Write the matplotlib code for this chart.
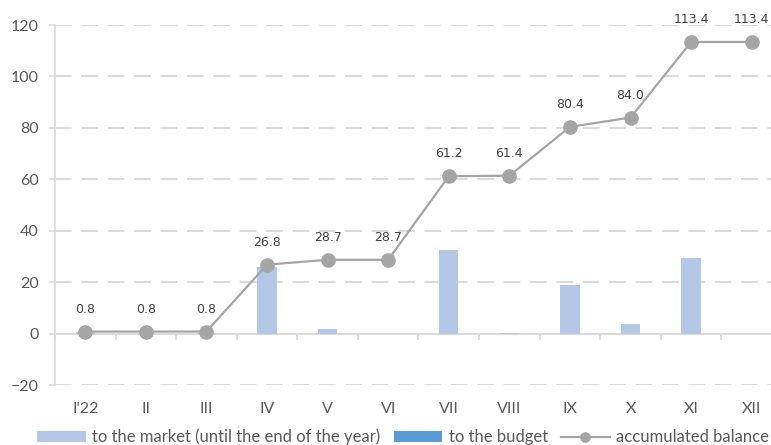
import matplotlib
matplotlib.use("Agg")
import matplotlib.pyplot as plt
import numpy as np

months = ["I'22", "II", "III", "IV", "V", "VI", "VII", "VIII", "IX", "X", "XI", "XII"]
to_market = [0.8, 0.0, 0.3, 26.0, 1.9, 0.0, 32.5, 0.4, 19.0, 3.6, 29.4, 0.0]
to_budget = [0.0] * 12
accumulated = [0.8, 0.8, 0.8, 26.8, 28.7, 28.7, 61.2, 61.4, 80.4, 84.0, 113.4, 113.4]
y_ticks = [-20, 0, 20, 40, 60, 80, 100, 120]

plt.rcParams["font.family"] = ["Lato", "DejaVu Sans"]
plt.rcParams["lines.scale_dashes"] = False

text_col = "#595959"
grid_col = "#D9D9D9"
market_col = "#B4C7E7"
budget_col = "#5B9BD5"
line_col = "#A5A5A5"

fig = plt.figure(figsize=(7.71, 4.45), dpi=100)
ax = fig.add_axes([0.0713, 0.1348, 0.943, 0.809])

x = np.arange(len(months))
b1 = ax.bar(x, to_market, width=0.32, color=market_col, zorder=2,
            label="to the market (until the end of the year)")
b2 = ax.bar(x, to_budget, width=0.32, bottom=to_market, color=budget_col, zorder=2,
            label="to the budget")
ln, = ax.plot(x, accumulated, color=line_col, lw=1.6, marker="o", markersize=9.5,
              zorder=4, label="accumulated balance")

for xi, v in zip(x, accumulated):
    ax.annotate(f"{v:.1f}", (xi, v), xytext=(0, 16), textcoords="offset points",
                ha="center", va="center", fontsize=9, color="#404040",
                family="DejaVu Sans")

ax.set_xlim(-0.5, len(months) - 0.5)
ax.set_ylim(-20, 120)
ax.set_yticks(y_ticks)
ax.set_xticks(x)
ax.set_xticklabels(months)

for yt in y_ticks:
    if yt == 0:
        continue
    ax.axhline(yt, color=grid_col, lw=1.4, ls=(0, (12, 7)), zorder=1)
ax.axhline(0, color=grid_col, lw=1.4, zorder=1)

for s in ["top", "right", "bottom"]:
    ax.spines[s].set_visible(False)
ax.spines["left"].set_color(grid_col)
ax.spines["left"].set_linewidth(1.2)

ax.tick_params(axis="y", length=4.5, width=1.2, color=grid_col, pad=7,
               labelsize=11.5, labelcolor=text_col)
ax.tick_params(axis="x", length=0, pad=12, labelsize=11.5, labelcolor=text_col)

# category separator ticks hanging off the zero line
zero_axis = ax.secondary_xaxis(20 / 140)
zero_axis.set_xticks(np.arange(len(months) + 1) - 0.5)
zero_axis.tick_params(length=4.5, width=1.2, color=grid_col, labelbottom=False,
                      labeltop=False, direction="out")
zero_axis.spines["bottom"].set_visible(False)
zero_axis.spines["top"].set_visible(False)

fig.legend([b1, b2, ln],
           [b1.get_label(), b2.get_label(), ln.get_label()],
           loc="center", bbox_to_anchor=(0.523, 0.018),
           ncol=3, frameon=False, fontsize=12, labelcolor=text_col,
           handlelength=2.9, handleheight=0.65, columnspacing=0.8,
           handletextpad=0.4, markerscale=0.7)

fig.savefig("out.png", dpi=100)
